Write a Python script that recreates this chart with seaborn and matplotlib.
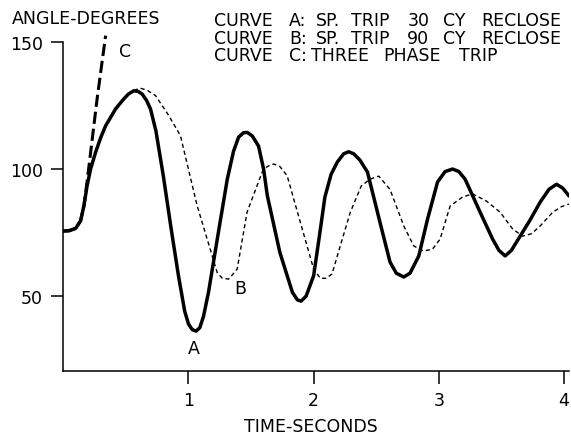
import matplotlib
matplotlib.use("Agg")
import matplotlib.pyplot as plt
import seaborn as sns
import pandas as pd

# ---- data ----
a_time = [0.00, 0.045, 0.098, 0.138, 0.165, 0.19, 0.218, 0.258, 0.30, 0.338, 0.417, 0.471,
          0.52, 0.563, 0.60, 0.63, 0.665, 0.697, 0.74, 0.80, 0.86, 0.92, 0.97, 1.00, 1.03,
          1.06, 1.09, 1.12, 1.16, 1.23, 1.31, 1.36, 1.40, 1.44, 1.47, 1.51, 1.56, 1.60,
          1.63, 1.73, 1.83, 1.87, 1.90, 1.94, 2.00, 2.05, 2.09, 2.14, 2.19, 2.24, 2.28,
          2.32, 2.37, 2.43, 2.53, 2.61, 2.66, 2.72, 2.77, 2.84, 2.91, 2.99, 3.05, 3.11,
          3.16, 3.21, 3.33, 3.43, 3.48, 3.53, 3.58, 3.65, 3.73, 3.81, 3.88, 3.94, 3.99, 4.04]
a_angle = [75.6, 75.7, 76.6, 79.6, 85.6, 93.4, 100.0, 106.6, 112.5, 117.0, 123.6, 126.9,
           129.5, 130.8, 130.5, 129.5, 127.0, 123.6, 115.0, 97.0, 77.0, 58.0, 44.0, 39.0, 36.8,
           36.2, 37.5, 42.0, 51.5, 72.4, 96.0, 107.0, 112.5, 114.3, 114.4, 113.0, 109.0, 100.0,
           89.5, 67.2, 51.5, 48.5, 48.0, 50.0, 58.0, 75.0, 89.0, 98.0, 102.8, 106.0, 106.8,
           106.0, 103.5, 98.8, 79.0, 63.4, 59.0, 57.5, 59.0, 65.8, 80.3, 94.9, 99.0, 100.0,
           99.0, 96.0, 83.0, 72.4, 68.0, 65.8, 68.0, 73.6, 80.0, 87.0, 92.0, 94.0, 92.5, 89.4]

b_time = [0.00, 0.045, 0.098, 0.138, 0.165, 0.19, 0.218, 0.258, 0.30, 0.338, 0.417, 0.471,
          0.52, 0.563, 0.617, 0.67, 0.737, 0.843, 0.936, 1.069, 1.189, 1.229, 1.27, 1.322,
          1.389, 1.468, 1.588, 1.63, 1.681, 1.73, 1.788, 1.894, 2.00, 2.053, 2.10, 2.147,
          2.213, 2.293, 2.38, 2.45, 2.52, 2.61, 2.72, 2.80, 2.88, 2.95, 3.01, 3.09, 3.19,
          3.27, 3.38, 3.49, 3.59, 3.67, 3.74, 3.81, 3.91, 3.98, 4.04]
b_angle = [75.6, 75.7, 76.6, 79.6, 85.6, 93.4, 100.0, 106.6, 112.5, 117.0, 123.6, 126.9,
           129.5, 131.0, 131.8, 131.0, 128.9, 121.0, 113.1, 85.6, 65.9, 59.3, 57.0, 56.7,
           60.6, 83.0, 98.7, 101.0, 102.0, 101.0, 97.4, 79.0, 60.6, 57.0, 57.0, 58.7,
           69.8, 83.0, 93.3, 96.0, 97.2, 92.0, 77.6, 69.7, 67.7, 68.5, 72.4, 85.4, 89.0,
           90.2, 87.4, 83.0, 76.4, 73.6, 74.5, 77.6, 83.0, 85.2, 86.2]

c_time = [0.00, 0.045, 0.098, 0.138, 0.165, 0.19, 0.27, 0.338]
c_angle = [75.6, 75.7, 76.6, 79.6, 85.6, 95.0, 127.6, 152.5]

x_ticks = [1, 2, 3, 4]
y_ticks = [50, 100, 150]
title_y = "ANGLE-DEGREES"
title_x = "TIME-SECONDS"
legend_lines = [["CURVE", "A:", "SP.", "TRIP", "30", "CY", "RECLOSE"],
                ["CURVE", "B:", "SP.", "TRIP", "90", "CY", "RECLOSE"],
                ["CURVE", "C:", "THREE", "PHASE", "TRIP"]]
# character column of each word (plotter text is on a fixed character grid)
legend_cols = [[0, 6, 8, 11, 16, 19, 22],
               [0, 6, 8, 11, 16, 19, 22],
               [0, 6, 8, 14, 20]]

df_a = pd.DataFrame({"t": a_time, "deg": a_angle})
df_b = pd.DataFrame({"t": b_time, "deg": b_angle})
df_c = pd.DataFrame({"t": c_time, "deg": c_angle})

sns.set_style("ticks")
plt.rcParams["font.family"] = ["DejaVu Sans"]
plt.rcParams["text.color"] = "black"

W, H = 571, 435
fig = plt.figure(figsize=(W / 100, H / 100), dpi=100)
left_px, right_px, top_px, bot_px = 63.3, 569, 43, 372
ax = fig.add_axes([left_px / W, 1 - bot_px / H, (right_px - left_px) / W, (bot_px - top_px) / H])

sns.lineplot(data=df_b, x="t", y="deg", ax=ax, color="black", lw=1.0,
             linestyle=(0, (3, 2.2)), estimator=None, sort=False)
sns.lineplot(data=df_c, x="t", y="deg", ax=ax, color="black", lw=2.2,
             linestyle=(0, (4, 1.6)), estimator=None, sort=False, clip_on=False)
sns.lineplot(data=df_a, x="t", y="deg", ax=ax, color="black", lw=2.5,
             estimator=None, sort=False, solid_capstyle="round")

ax.set_xlim(0, 4.04)
ax.set_ylim(20.5, 150)
ax.set_xticks(x_ticks)
ax.set_xticklabels([str(v) for v in x_ticks])
ax.set_yticks(y_ticks)
ax.set_yticklabels([str(v) for v in y_ticks])
ax.set_xlabel("")
ax.set_ylabel("")
sns.despine(ax=ax)
for s in ["left", "bottom"]:
    ax.spines[s].set_linewidth(1.1)
    ax.spines[s].set_color("black")
ax.tick_params(axis="both", length=9, width=1.1, color="black", labelsize=12.5,
               labelcolor="black", pad=5.5)

fs = 12.5
pitch = 12.05
fig.text(12 / W, 1 - 19 / H, title_y, fontsize=fs, ha="left", va="center", color="black")
for i, (words, cols) in enumerate(zip(legend_lines, legend_cols)):
    for w, c in zip(words, cols):
        xc = 215 + (c + len(w) / 2) * pitch - 1.5
        fig.text(xc / W, 1 - (21 + 17.5 * i) / H, w, fontsize=fs,
                 ha="center", va="center", color="black")
fig.text(311 / W, 1 - 427 / H, title_x, fontsize=fs, ha="center", va="center", color="black")

ax.text(1.045, 29.5, "A", fontsize=fs, ha="center", va="center", color="black")
ax.text(1.41, 53.1, "B", fontsize=fs, ha="center", va="center", color="black")
ax.text(0.49, 146.6, "C", fontsize=fs, ha="center", va="center", color="black")

fig.savefig("out.png", dpi=100, facecolor="white")
